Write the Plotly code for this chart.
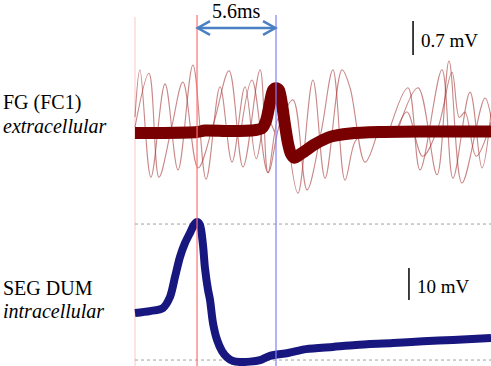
import plotly.graph_objects as go

# ---------------- data (time in ms, voltage in mV) ----------------
# Extracellular FG (FC1) mean/overlaid sweeps (thick band)
fg_t = [0.0, 1.77, 4.40, 4.96, 6.74, 8.51, 9.01, 9.29, 9.57, 9.79, 10.0, 10.21,
        10.43, 10.64, 10.85, 11.06, 11.28, 11.56, 12.06, 12.77, 13.83, 15.25,
        17.38, 20.21, 25.25]
fg_v = [-0.02, -0.02, 0.0, 0.03, 0.02, 0.04, 0.08, 0.23, 0.60, 0.86, 0.90, 0.86,
        0.56, 0.14, -0.23, -0.45, -0.53, -0.49, -0.39, -0.25, -0.10, -0.03,
        0.0, 0.01, 0.01]

# Individual sweeps with oscillations (thin lines)
osc_a_t = [0.0, 0.35, 1.13, 2.13, 3.05, 4.11, 5.04, 6.03, 6.88, 7.80, 8.60, 9.30, 9.90]
osc_a_v = [0.31, 1.28, -0.93, 0.99, -0.78, 1.38, -0.97, 0.93, -0.62, 0.93, -0.55, 0.30, 0.0]

osc_b_t = [0.0, 0.99, 1.70, 2.60, 3.40, 4.47, 5.60, 6.67, 7.66, 8.87, 9.43, 10.20, 10.80]
osc_b_v = [0.10, 1.21, -0.93, 0.10, 1.03, -0.74, 0.20, 1.26, -0.72, 1.28, -0.84, 0.30, 0.0]

osc_c_t = [7.50, 8.30, 9.43, 10.30, 11.21, 12.20, 13.20, 14.04, 14.89, 15.60, 16.30]
osc_c_v = [0.0, 1.07, -0.84, 0.20, 0.66, -1.19, 0.0, 1.28, -0.99, -0.20, 0.0]

osc_d_t = [10.80, 11.56, 12.62, 13.48, 14.68, 15.25, 16.31, 17.20]
osc_d_v = [0.0, -1.26, 1.07, -0.95, 1.28, 0.91, -0.62, 0.0]

osc_e_t = [18.00, 19.36, 20.21, 21.77, 22.55, 23.76, 24.61, 25.25]
osc_e_v = [0.0, 0.91, -0.78, 1.28, -0.95, 0.82, -0.74, 0.40]

osc_f_t = [18.60, 20.07, 21.42, 22.27, 23.19, 24.82, 25.25]
osc_f_v = [0.0, 0.91, -0.88, 1.46, -1.05, 0.70, 0.30]

osc_g_t = [18.50, 19.29, 20.40, 21.50, 22.48, 23.00, 23.40, 24.20, 25.25]
osc_g_v = [0.0, 0.41, -0.50, 0.10, 1.23, 0.30, 0.41, -0.50, 0.20]

# Intracellular SEG DUM (relative membrane potential, mV)
seg_t = [0.0, 1.06, 1.99, 2.48, 2.84, 3.19, 3.55, 3.90, 4.18, 4.40, 4.61, 4.82,
         4.96, 5.18, 5.32, 5.53, 5.82, 6.17, 6.52, 6.95, 7.45, 8.16, 8.87, 9.57,
         10.85, 12.13, 14.04, 15.67, 18.30, 20.43, 22.55, 25.25]
seg_v = [0.0, 0.6, 1.6, 5.0, 11.3, 17.5, 21.9, 25.0, 27.5, 28.4, 27.5, 21.3,
         14.1, 7.2, 4.1, -3.1, -8.4, -11.9, -13.8, -15.0, -15.3, -15.2, -14.7,
         -13.4, -12.5, -11.3, -10.6, -10.0, -9.4, -8.8, -8.4, -7.8]
seg_peak_ref = 27.8
seg_trough_ref = -14.7

# markers / scale values
t_start = 0.0
t_end = 25.25
t_spike_intra = 4.40
delay_ms = 5.6
t_spike_extra = t_spike_intra + delay_ms
scale_fg_mv = 0.7
scale_seg_mv = 10.0

# ---------------- figure ----------------
W, H = 491, 366
PX_PER_MS = 14.1
x_left = -135 / PX_PER_MS
x_right = x_left + W / PX_PER_MS
y1_range = [132 / 48.6 - H / 48.6, 132 / 48.6]
y2_range = [313 / 3.2 - H / 3.2, 313 / 3.2]


def py(p):
    return 1 - p / H


fig = go.Figure()

thin = dict(color="rgba(165,55,55,0.6)", width=1.1, shape="spline", smoothing=1.0)
for tt, vv in [(osc_a_t, osc_a_v), (osc_b_t, osc_b_v), (osc_c_t, osc_c_v),
               (osc_d_t, osc_d_v), (osc_e_t, osc_e_v), (osc_f_t, osc_f_v),
               (osc_g_t, osc_g_v)]:
    fig.add_trace(go.Scatter(x=tt, y=vv, mode="lines", line=thin,
                             hoverinfo="skip", showlegend=False, yaxis="y"))

fig.add_trace(go.Scatter(x=fg_t, y=fg_v, mode="lines",
                         line=dict(color="#780000", width=12, shape="spline", smoothing=0.8),
                         showlegend=False, yaxis="y"))

fig.add_trace(go.Scatter(x=seg_t, y=seg_v, mode="lines",
                         line=dict(color="#17177f", width=8, shape="spline", smoothing=0.8),
                         showlegend=False, yaxis="y2"))

shapes = []
# reference dotted lines (intracellular peak / trough)
for lv in (seg_peak_ref, seg_trough_ref):
    shapes.append(dict(type="line", xref="x", yref="y2", x0=t_start, x1=t_end,
                       y0=lv, y1=lv, line=dict(color="#a0a0a0", width=1, dash="dot"),
                       layer="below"))
# vertical markers
shapes.append(dict(type="line", xref="x", yref="paper", x0=t_start, x1=t_start,
                   y0=0, y1=py(17), line=dict(color="#ffd0d0", width=1.2), layer="below"))
shapes.append(dict(type="line", xref="x", yref="paper", x0=t_spike_intra, x1=t_spike_intra,
                   y0=0, y1=py(15), line=dict(color="#ff7070", width=1.2)))
shapes.append(dict(type="line", xref="x", yref="paper", x0=t_spike_extra, x1=t_spike_extra,
                   y0=0, y1=py(15), line=dict(color="#7f7fff", width=1.2)))
# double arrow for delay
arrow_v = 2.14
hl, hh = 0.92, 0.14
acol = "#4a80c4"
shapes.append(dict(type="line", xref="x", yref="y", x0=t_spike_intra + 0.05, x1=t_spike_extra - 0.05,
                   y0=arrow_v, y1=arrow_v, line=dict(color=acol, width=2.5)))
shapes.append(dict(type="path", xref="x", yref="y",
                   path=f"M {t_spike_intra + hl},{arrow_v + hh} L {t_spike_intra + 0.05},{arrow_v} L {t_spike_intra + hl},{arrow_v - hh}",
                   line=dict(color=acol, width=2.5)))
shapes.append(dict(type="path", xref="x", yref="y",
                   path=f"M {t_spike_extra - hl},{arrow_v + hh} L {t_spike_extra - 0.05},{arrow_v} L {t_spike_extra - hl},{arrow_v - hh}",
                   line=dict(color=acol, width=2.5)))
# scale bars
sb1_t, sb1_v0 = 19.72, 1.584
shapes.append(dict(type="line", xref="x", yref="y", x0=sb1_t, x1=sb1_t,
                   y0=sb1_v0, y1=sb1_v0 + scale_fg_mv, line=dict(color="black", width=1.5)))
sb2_t, sb2_v0 = 19.43, 4.06
shapes.append(dict(type="line", xref="x", yref="y2", x0=sb2_t, x1=sb2_t,
                   y0=sb2_v0, y1=sb2_v0 + scale_seg_mv, line=dict(color="black", width=1.5)))

serif = "Liberation Serif, Times New Roman, serif"
ann = []
ann.append(dict(text=f"{delay_ms}ms", x=(t_spike_intra + t_spike_extra) / 2, xref="x",
                y=py(11), yref="paper", showarrow=False, xanchor="center", yanchor="middle",
                font=dict(family=serif, size=20, color="black")))
ann.append(dict(text=f"{scale_fg_mv} mV", x=sb1_t + 0.45, xref="x", y=py(40), yref="paper",
                showarrow=False, xanchor="left", yanchor="middle",
                font=dict(family=serif, size=19, color="black")))
ann.append(dict(text=f"{scale_seg_mv:.0f} mV", x=sb2_t + 0.45, xref="x", y=py(286), yref="paper",
                showarrow=False, xanchor="left", yanchor="middle",
                font=dict(family=serif, size=19, color="black")))
for txt, p in [("FG (FC1)", 103), ("<i>extracellular</i>", 126),
               ("SEG DUM", 288), ("<i>intracellular</i>", 311)]:
    ann.append(dict(text=txt, x=x_left + 1 / PX_PER_MS, xref="x", y=py(p), yref="paper",
                    showarrow=False, xanchor="left", yanchor="middle",
                    font=dict(family=serif, size=20, color="black")))

fig.update_layout(
    width=W, height=H, margin=dict(l=0, r=0, t=0, b=0),
    paper_bgcolor="white", plot_bgcolor="white",
    xaxis=dict(range=[x_left, x_right], visible=False, showgrid=False, zeroline=False),
    yaxis=dict(range=y1_range, visible=False, showgrid=False, zeroline=False),
    yaxis2=dict(range=y2_range, visible=False, showgrid=False, zeroline=False,
                overlaying="y"),
    shapes=shapes, annotations=ann, showlegend=False,
)

fig.write_html("out.html", config={"displayModeBar": False},
               post_script="document.body.style.margin='0';document.body.style.overflow='hidden';")
